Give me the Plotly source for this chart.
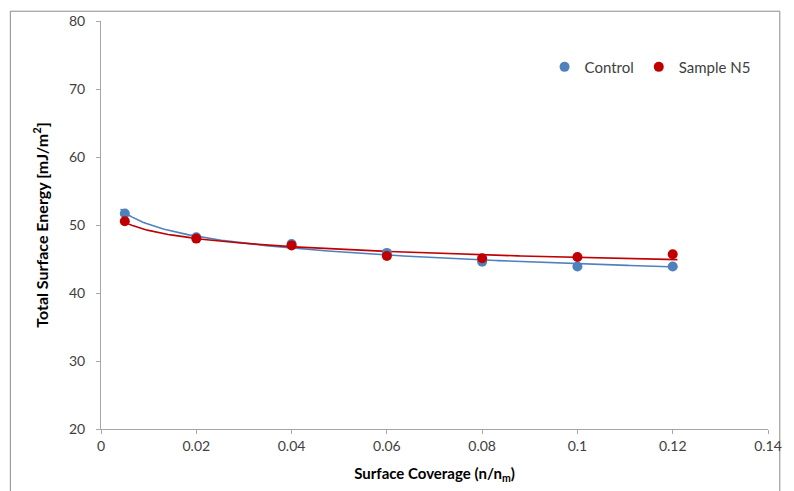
import numpy as np
import plotly.graph_objects as go

coverage = [0.005, 0.02, 0.04, 0.06, 0.08, 0.10, 0.12]
control = [51.7, 48.2, 47.2, 45.9, 44.6, 43.9, 43.9]
sample_n5 = [50.55, 48.0, 47.0, 45.45, 45.1, 45.3, 45.7]

BLUE = "#4F81BD"
RED = "#C00000"
FONT = "Lato, 'Open Sans', sans-serif"


def log_fit(x, y, xs):
    b, a = np.polyfit(np.log(x), y, 1)
    return a + b * np.log(xs)


xs = np.linspace(0.0041, 0.121, 200)

fig = go.Figure()
fig.add_trace(go.Scatter(x=xs, y=log_fit(coverage, control, xs), mode="lines",
                         line=dict(color=BLUE, width=1.6), showlegend=False, hoverinfo="skip"))
fig.add_trace(go.Scatter(x=xs, y=log_fit(coverage, sample_n5, xs), mode="lines",
                         line=dict(color=RED, width=1.6), showlegend=False, hoverinfo="skip"))
fig.add_trace(go.Scatter(x=coverage, y=control, mode="markers", name="Control",
                         marker=dict(color=BLUE, size=10)))
fig.add_trace(go.Scatter(x=coverage, y=sample_n5, mode="markers", name="Sample N5",
                         marker=dict(color=RED, size=10)))

axis_common = dict(showgrid=False, zeroline=False, showline=True, linecolor="#A6A6A6",
                   linewidth=1, ticks="outside", tickcolor="#A6A6A6", ticklen=4,
                   tickfont=dict(size=14, color="#404040", family=FONT))

fig.update_xaxes(range=[0, 0.14], dtick=0.02, tick0=0,
                 title=dict(text="<b>Surface Coverage (n/n<sub>m</sub>)</b>",
                            font=dict(size=15, color="#000000", family=FONT), standoff=15),
                 **axis_common)
fig.update_yaxes(range=[20, 80], dtick=10, tick0=20, ticklabelstandoff=8,
                 title=dict(text="<b>Total Surface Energy [mJ/m<sup>2</sup>]</b>",
                            font=dict(size=16, color="#000000", family=FONT), standoff=16),
                 **axis_common)

fig.add_shape(type="rect", xref="paper", yref="paper",
              x0=-0.1359, x1=1.0177, y0=-0.2, y1=1.024,
              line=dict(color="#8C8C8C", width=1), fillcolor="rgba(0,0,0,0)", layer="below")

fig.update_layout(
    width=794, height=491,
    margin=dict(l=101, r=16, t=17, b=59),
    paper_bgcolor="white", plot_bgcolor="white",
    font=dict(family=FONT),
    legend=dict(orientation="h", x=0.665, y=0.887, xanchor="left", yanchor="middle",
                font=dict(size=15, color="#404040", family=FONT),
                itemwidth=30, tracegroupgap=0, bgcolor="rgba(0,0,0,0)"),
)

fig.write_html("out.html")
